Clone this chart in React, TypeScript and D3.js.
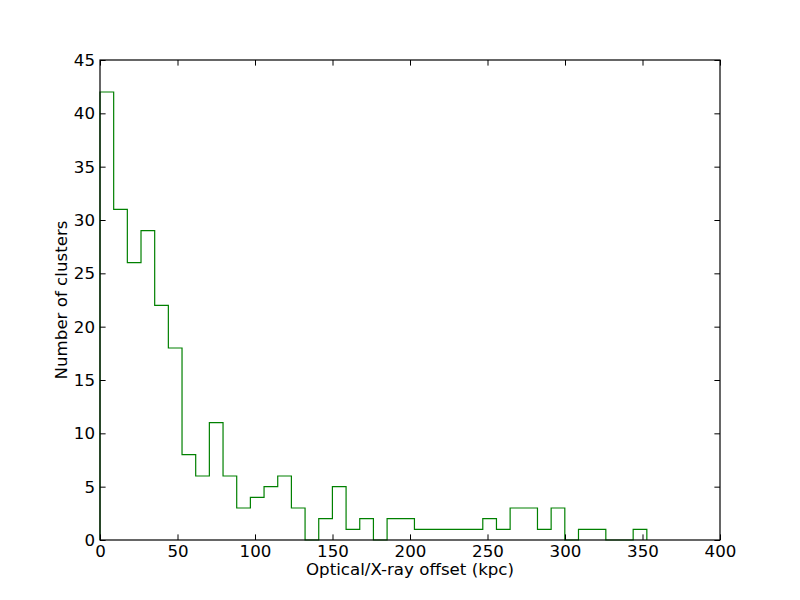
import React, { useRef, useEffect } from 'react'
import * as d3 from 'd3'

// histogram counts per bin (offset in kpc)
const counts = [42, 31, 26, 29, 22, 18, 8, 6, 11, 6, 3, 4, 5, 6, 3, 0, 2, 5, 1, 2, 0, 2, 2, 1, 1, 1, 1, 1, 2, 1, 3, 3, 1, 3, 0, 1, 1, 0, 0, 1]
const binWidth = 8.82
const xTicks = [0, 50, 100, 150, 200, 250, 300, 350, 400]
const yTicks = [0, 5, 10, 15, 20, 25, 30, 35, 40, 45]
const xLabel = 'Optical/X-ray offset (kpc)'
const yLabel = 'Number of clusters'

const width = 800
const height = 600
const margin = { top: 60, right: 80, bottom: 60, left: 100 }
const font = '"DejaVu Sans", sans-serif'
const fontSize = 16.67
const tick = 5.6

const App = () => {
  const svgRef = useRef<SVGSVGElement>(null)

  useEffect(() => {
    const svg = d3.select(svgRef.current)
    svg.selectAll('*').remove()

    const x = d3.scaleLinear().domain([0, 400]).range([margin.left, width - margin.right])
    const y = d3.scaleLinear().domain([0, 45]).range([height - margin.bottom, margin.top])

    svg.append('rect').attr('width', width).attr('height', height).attr('fill', '#fff')

    // step outline
    const pts: [number, number][] = [[0, 0]]
    counts.forEach((c, i) => {
      pts.push([i * binWidth, c])
      pts.push([(i + 1) * binWidth, c])
    })
    pts.push([counts.length * binWidth, 0])
    const stepLine = d3.line<[number, number]>().x(d => x(d[0])).y(d => y(d[1]))
    svg.append('path')
      .datum(pts)
      .attr('fill', 'none')
      .attr('stroke', '#008000')
      .attr('stroke-width', 1.2)
      .attr('stroke-linejoin', 'miter')
      .attr('d', stepLine)

    const styleAxis = (g: any, labels: boolean) => {
      g.select('.domain').remove()
      g.selectAll('.tick line').attr('stroke', '#000').attr('stroke-width', 1)
      g.selectAll('.tick text')
        .attr('font-family', font)
        .attr('font-size', fontSize)
        .attr('fill', '#000')
      if (!labels) g.selectAll('.tick text').remove()
    }

    svg.append('g')
      .attr('transform', `translate(0,${height - margin.bottom})`)
      .call(d3.axisBottom(x).tickValues(xTicks).tickSize(-tick).tickPadding(5.5).tickFormat(d3.format('d')))
      .call((g: any) => styleAxis(g, true))
    svg.append('g')
      .attr('transform', `translate(0,${margin.top})`)
      .call(d3.axisTop(x).tickValues(xTicks).tickSize(-tick))
      .call((g: any) => styleAxis(g, false))
    svg.append('g')
      .attr('transform', `translate(${margin.left},0)`)
      .call(d3.axisLeft(y).tickValues(yTicks).tickSize(-tick).tickPadding(5).tickFormat(d3.format('d')))
      .call((g: any) => styleAxis(g, true))
    svg.append('g')
      .attr('transform', `translate(${width - margin.right},0)`)
      .call(d3.axisRight(y).tickValues(yTicks).tickSize(-tick))
      .call((g: any) => styleAxis(g, false))

    // frame
    svg.append('rect')
      .attr('x', margin.left)
      .attr('y', margin.top)
      .attr('width', width - margin.left - margin.right)
      .attr('height', height - margin.top - margin.bottom)
      .attr('fill', 'none')
      .attr('stroke', '#000')
      .attr('stroke-width', 1.2)

    svg.append('text')
      .attr('x', (margin.left + width - margin.right) / 2)
      .attr('y', 575)
      .attr('text-anchor', 'middle')
      .attr('font-family', font)
      .attr('font-size', fontSize)
      .text(xLabel)
    svg.append('text')
      .attr('transform', `translate(67,${(margin.top + height - margin.bottom) / 2}) rotate(-90)`)
      .attr('text-anchor', 'middle')
      .attr('font-family', font)
      .attr('font-size', fontSize)
      .text(yLabel)
  }, [])

  return (
    <div style={{ position: 'absolute', left: 0, top: 0 }}>
      <svg ref={svgRef} width={width} height={height} style={{ display: 'block' }}></svg>
    </div>
  )
}

export default App
